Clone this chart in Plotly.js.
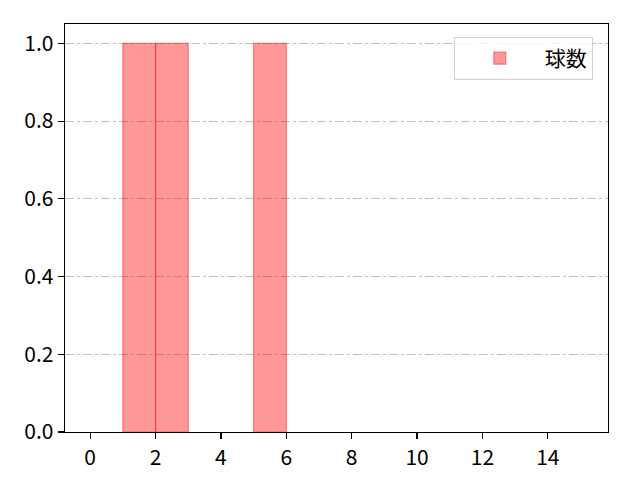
<!DOCTYPE html>
<html>
<head>
<meta charset="utf-8">
<script src="https://cdn.plot.ly/plotly-3.0.1.min.js"></script>
<style>
  html, body { margin: 0; padding: 0; background: #fff; }
  #chart { width: 640px; height: 480px; }
</style>
</head>
<body>
<div id="chart"></div>
<script>
// Histogram bins (left edge of each bin) and their counts
const binStarts = [1, 2, 5];
const binWidth = 1;
const counts = [1, 1, 1];
const seriesName = '球数';

const xTicks = [0, 2, 4, 6, 8, 10, 12, 14];
const yTicks = [0, 0.2, 0.4, 0.6, 0.8, 1.0];

const font = '"Noto Sans CJK JP", "DejaVu Sans", sans-serif';

const trace = {
    x: binStarts.map(s => s + binWidth / 2),
    y: counts,
    width: binStarts.map(() => binWidth),
    type: 'bar',
    name: seriesName,
    marker: {
        color: 'rgba(255, 0, 0, 0.4)',
        line: { color: 'rgba(255, 40, 40, 0.55)', width: 1.2 }
    },
    showlegend: true
};

const axisBase = {
    showline: true,
    linecolor: '#000',
    linewidth: 1.3,
    mirror: true,
    ticks: 'outside',
    ticklen: 6,
    tickwidth: 1.2,
    tickcolor: '#000',
    zeroline: false,
    tickfont: { family: font, size: 21, color: '#000' }
};

const layout = {
    width: 640,
    height: 480,
    margin: { t: 24, r: 32, b: 48, l: 65 },
    paper_bgcolor: '#fff',
    plot_bgcolor: '#fff',
    font: { family: font, size: 21, color: '#000' },
    xaxis: {
        ...axisBase,
        range: [-0.77, 15.84],
        tickvals: xTicks,
        ticktext: xTicks.map(String),
        showgrid: false
    },
    yaxis: {
        ...axisBase,
        range: [0, 1.05],
        tickvals: yTicks,
        ticktext: yTicks.map(v => v.toFixed(1)),
        showgrid: true,
        gridcolor: '#b0b0b0',
        gridwidth: 0.8,
        griddash: 'dashdot'
    },
    showlegend: true,
    legend: {
        x: 0.972,
        y: 0.968,
        xanchor: 'right',
        yanchor: 'top',
        bgcolor: 'rgba(255,255,255,0.8)',
        bordercolor: '#d0d0d0',
        borderwidth: 1,
        itemwidth: 80,
        font: { family: font, size: 21, color: '#000' }
    },
    bargap: 0
};

Plotly.newPlot('chart', [trace], layout, { displayModeBar: false, staticPlot: true });
</script>
</body>
</html>
